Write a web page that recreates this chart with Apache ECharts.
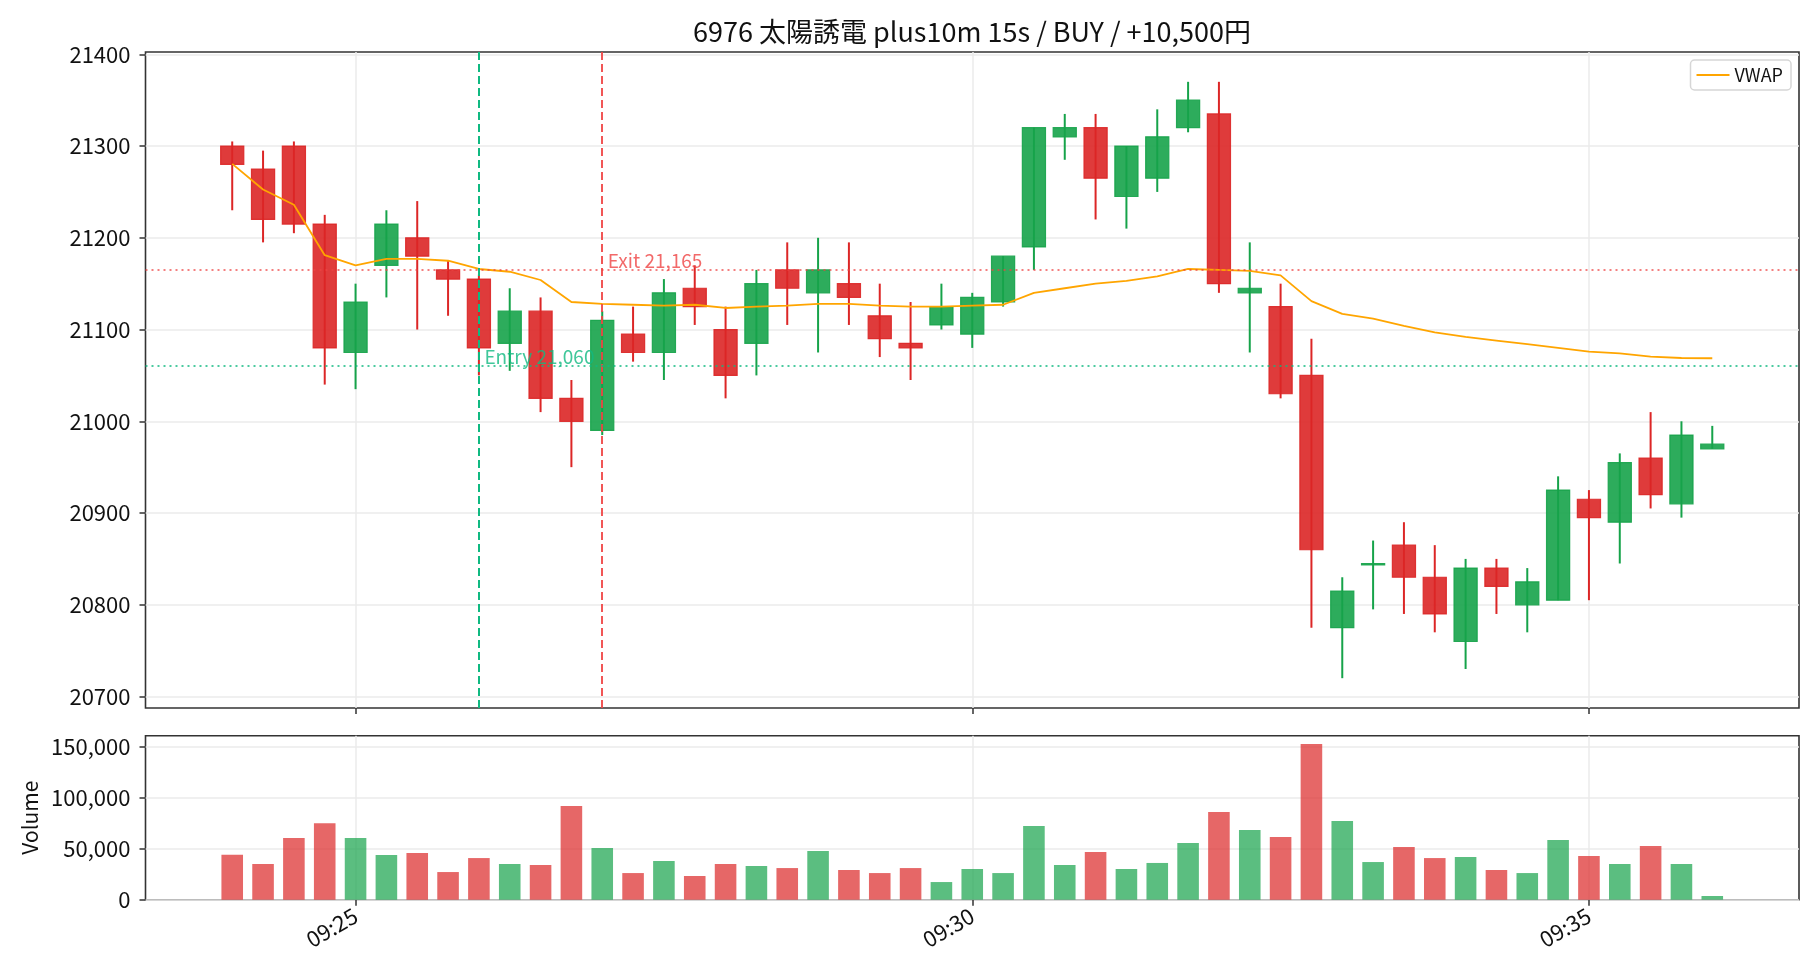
<!DOCTYPE html>
<html>
<head>
<meta charset="utf-8">
<script src="https://cdn.jsdelivr.net/npm/echarts@6/dist/echarts.min.js"></script>
<style>
html, body { margin: 0; padding: 0; background: #fff; }
#chart { width: 1820px; height: 980px; }
</style>
</head>
<body>
<div id="chart"></div>
<script>
// 15秒足 (09:24:00 から) - index 0..48
var opens  = [21300,21275,21300,21215,21075,21170,21200,21165,21155,21085,21120,21025,20990,21095,21075,21145,21100,21085,21165,21140,21150,21115,21085,21105,21095,21130,21190,21310,21320,21245,21265,21320,21335,21140,21125,21050,20775,20845,20865,20830,20760,20840,20800,20805,20915,20890,20960,20910,20970];
var closes = [21280,21220,21215,21080,21130,21215,21180,21155,21080,21120,21025,21000,21110,21075,21140,21125,21050,21150,21145,21165,21135,21090,21080,21125,21135,21180,21320,21320,21265,21300,21310,21350,21150,21145,21030,20860,20815,20845,20830,20790,20840,20820,20825,20925,20895,20955,20920,20985,20975];
var highs  = [21305,21295,21305,21225,21150,21230,21240,21175,21160,21145,21135,21045,21120,21125,21155,21170,21125,21165,21195,21200,21195,21150,21130,21150,21140,21180,21320,21335,21335,21300,21340,21370,21370,21195,21150,21090,20830,20870,20890,20865,20850,20850,20840,20940,20925,20965,21010,21000,20995];
var lows   = [21230,21195,21205,21040,21035,21135,21100,21115,21050,21055,21010,20950,20985,21065,21045,21105,21025,21050,21105,21075,21105,21070,21045,21100,21080,21125,21165,21285,21220,21210,21250,21315,21140,21075,21025,20775,20720,20795,20790,20770,20730,20790,20770,20805,20805,20845,20905,20895,20970];
var volumes = [44000,35000,60500,75000,60500,43800,45700,27100,40800,35000,34000,91800,50600,26100,37900,23200,35000,33000,31000,47700,29100,26100,31000,17300,30100,26100,72200,34000,46700,30100,36000,55600,86000,68300,61400,152600,77100,36900,51600,40800,41800,29100,26100,58500,42800,35000,52600,35000,3600];
var vwap = [21280.6,21252.7,21236,21181,21170,21177,21177,21175,21166,21163,21154,21130,21128,21127,21126,21127,21123.5,21125,21126,21128,21128,21126,21125,21125,21126,21127,21140,21145,21150,21153,21158,21166,21165,21164,21159,21131,21117,21112,21104,21097,21092,21088,21084,21080,21076,21074,21070.5,21069,21068.7];

var xTickIdx = [4, 24, 44];
var xTickLabels = ['09:25', '09:30', '09:35'];
var priceTicks = [20700, 20800, 20900, 21000, 21100, 21200, 21300, 21400];
var volTicks = [0, 50000, 100000, 150000];

var entryIdx = 8, entryPrice = 21060;
var exitIdx = 12, exitPrice = 21165;
var titleText = '6976 太陽誘電 plus10m 15s / BUY / +10,500円';

var UP = '#16a34a', DOWN = '#dc2626';
var ENTRY_COL = '#10b981', EXIT_COL = '#ef4444';
var FONT = '"Noto Sans CJK JP", "Noto Sans", sans-serif';

var candleData = [], volData = [], vwapData = [];
for (var i = 0; i < opens.length; i++) {
  candleData.push([i, opens[i], closes[i], lows[i], highs[i]]);
  volData.push([i, volumes[i], closes[i] >= opens[i] ? 1 : 0]);
  vwapData.push([i, vwap[i]]);
}

var chart = echarts.init(document.getElementById('chart'));

function xAxisCfg(grid, showLabel) {
  return {
    type: 'value', gridIndex: grid, min: -2.8125, max: 50.8125,
    axisLine: { show: false, onZero: false },
    axisTick: { show: true, customValues: xTickIdx, length: 6, lineStyle: { color: '#333', width: 1.5 } },
    axisLabel: {
      show: showLabel, customValues: xTickIdx, rotate: 30, margin: 14,
      fontSize: 22, color: '#111', fontFamily: FONT,
      formatter: function (v) { return xTickLabels[xTickIdx.indexOf(v)]; }
    },
    splitLine: { show: true, lineStyle: { color: '#ebebeb', width: 1.5 } }
  };
}

var option = {
  animation: false,
  backgroundColor: '#fff',
  title: {
    text: titleText, left: 972, top: 18, textAlign: 'center', padding: 0,
    textStyle: { fontSize: 27, fontWeight: 'normal', color: '#111', fontFamily: FONT }
  },
  legend: {
    data: [{ name: 'VWAP', icon: 'rect' }], right: 29, top: 60, orient: 'vertical',
    borderColor: '#d6d6d6', borderWidth: 1.5, borderRadius: 4,
    padding: [6, 8, 6, 6], itemWidth: 33, itemHeight: 2,
    textStyle: { fontSize: 18, color: '#111', fontFamily: FONT }
  },
  grid: [
    { left: 145.5, right: 21, top: 52, height: 656, show: true, borderColor: '#333', borderWidth: 1.6 },
    { left: 145.5, right: 21, top: 735.7, height: 164, show: true, borderColor: '#333', borderWidth: 1.6 }
  ],
  xAxis: [xAxisCfg(0, false), xAxisCfg(1, true)],
  yAxis: [
    {
      type: 'value', gridIndex: 0, min: 20687.5, max: 21402.5,
      axisLine: { show: false, onZero: false },
      axisTick: { show: true, customValues: priceTicks, length: 6, lineStyle: { color: '#333', width: 1.5 } },
      axisLabel: {
        customValues: priceTicks, margin: 15, fontSize: 22, color: '#111', fontFamily: FONT,
        formatter: function (v) { return String(v); }
      },
      splitLine: { show: true, lineStyle: { color: '#ebebeb', width: 1.5 } }
    },
    {
      type: 'value', gridIndex: 1, min: 0, max: 160700,
      name: 'Volume', nameLocation: 'middle', nameGap: 104,
      nameTextStyle: { fontSize: 21, color: '#111', fontFamily: FONT },
      axisLine: { show: false, onZero: false },
      axisTick: { show: true, customValues: volTicks, length: 6, lineStyle: { color: '#333', width: 1.5 } },
      axisLabel: {
        customValues: volTicks, margin: 15, fontSize: 22, color: '#111', fontFamily: FONT,
        formatter: function (v) { return v.toLocaleString('en-US'); }
      },
      splitLine: { show: true, lineStyle: { color: '#ebebeb', width: 1.5 } }
    }
  ],
  series: [
    {
      // ローソク足
      type: 'custom', name: 'candle', xAxisIndex: 0, yAxisIndex: 0, z: 2,
      data: candleData,
      renderItem: function (params, api) {
        var x = api.value(0), o = api.value(1), c = api.value(2), l = api.value(3), h = api.value(4);
        var pO = api.coord([x, o]), pC = api.coord([x, c]);
        var pL = api.coord([x, l]), pH = api.coord([x, h]);
        var w = api.size([0.75, 0])[0];
        var col = c >= o ? UP : DOWN;
        var top = Math.min(pO[1], pC[1]);
        var hgt = Math.max(Math.abs(pO[1] - pC[1]), 1.5);
        return {
          type: 'group',
          children: [
            { type: 'line', shape: { x1: pH[0], y1: pH[1], x2: pL[0], y2: pL[1] },
              style: { stroke: col, lineWidth: 2 } },
            { type: 'rect', shape: { x: pO[0] - w / 2, y: top, width: w, height: hgt },
              style: { fill: col, opacity: 0.9, stroke: col, lineWidth: 1.2 } }
          ]
        };
      }
    },
    {
      type: 'line', name: 'VWAP', xAxisIndex: 0, yAxisIndex: 0, z: 4,
      data: vwapData, symbol: 'none', color: '#ffa500',
      lineStyle: { color: '#ffa500', width: 1.8 },
      markLine: {
        silent: true, symbol: 'none', label: { show: false },
        data: [
          { xAxis: entryIdx, lineStyle: { color: ENTRY_COL, type: [8, 4], width: 2 } },
          { xAxis: exitIdx, lineStyle: { color: EXIT_COL, type: [8, 4], width: 2, opacity: 0.9 } },
          { yAxis: entryPrice, lineStyle: { color: ENTRY_COL, type: [2, 4], width: 1.6 } },
          { yAxis: exitPrice, lineStyle: { color: EXIT_COL, type: [2, 4], width: 1.6, opacity: 0.9 } }
        ]
      }
    },
    {
      // Entry / Exit ラベル
      type: 'scatter', xAxisIndex: 0, yAxisIndex: 0, z: 6, silent: true,
      symbolSize: 1, itemStyle: { color: 'rgba(0,0,0,0)' },
      data: [
        { value: [entryIdx, entryPrice], label: { formatter: 'Entry ' + entryPrice.toLocaleString('en-US'), color: ENTRY_COL } },
        { value: [exitIdx, exitPrice], label: { formatter: 'Exit ' + exitPrice.toLocaleString('en-US'), color: EXIT_COL } }
      ],
      label: { show: true, position: [6, 1], align: 'left', verticalAlign: 'bottom', fontSize: 19, fontFamily: FONT }
    },
    {
      // 出来高
      type: 'custom', name: 'volume', xAxisIndex: 1, yAxisIndex: 1,
      data: volData,
      renderItem: function (params, api) {
        var x = api.value(0), v = api.value(1), up = api.value(2);
        var p = api.coord([x, v]), p0 = api.coord([x, 0]);
        var w = api.size([0.7, 0])[0];
        return {
          type: 'rect', shape: { x: p[0] - w / 2, y: p[1], width: w, height: p0[1] - p[1] },
          style: { fill: up ? UP : DOWN, opacity: 0.7 }
        };
      }
    }
  ]
};
chart.setOption(option);
</script>
</body>
</html>
